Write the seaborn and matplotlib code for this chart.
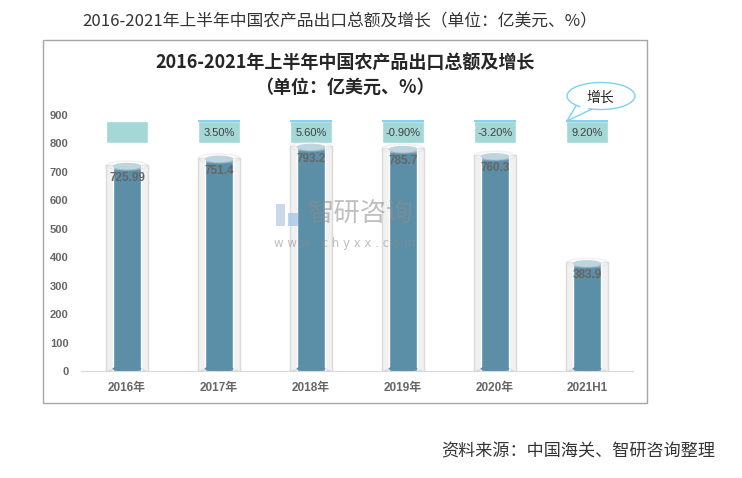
# -*- coding: utf-8 -*-
import numpy as np
import pandas as pd
import seaborn as sns
import matplotlib.pyplot as plt
from matplotlib.patches import Ellipse, Rectangle, Polygon

# data
years = ['2016年', '2017年', '2018年', '2019年', '2020年', '2021H1']
export_total = [725.99, 751.4, 793.2, 785.7, 760.3, 383.9]
value_labels = ['725.99', '751.4', '793.2', '785.7', '760.3', '383.9']
growth_labels = ['', '3.50%', '5.60%', '-0.90%', '-3.20%', '9.20%']

sns.set_style('white')
plt.rcParams['font.family'] = ['Noto Sans CJK SC', 'DejaVu Sans']
LAT = ['Liberation Sans', 'Noto Sans CJK SC']

W, H = 742, 478
fig = plt.figure(figsize=(W / 100, H / 100), dpi=100)


def fx(x):
    return x / W


def fy(y):
    return 1 - y / H


# outer chart frame
fig.patches.append(Rectangle((fx(43), fy(403)), fx(647 - 43), (403 - 40) / H,
                             transform=fig.transFigure, fill=False,
                             edgecolor='#a6a6a6', lw=1))

ax = fig.add_axes([fx(81), fy(371), fx(633 - 81), (371 - 115) / H])
df = pd.DataFrame({'year': years, 'total': export_total})
pos = np.arange(len(years))
vals = np.array(export_total)

# transparent tube behind the bars
ax.bar(pos, vals + 2, bottom=-4, width=0.446, color='#f1f1f1',
       edgecolor='#dadada', lw=1, zorder=1)
for p in pos:
    ax.add_patch(Ellipse((p, -4), 0.446, 22, facecolor='#eeeeee',
                         edgecolor='#dadada', lw=1, zorder=1))

sns.barplot(data=df, x='year', y='total', color='#5a8fa7', saturation=1,
            width=0.315, ax=ax, zorder=2)
for p in pos:
    ax.add_patch(Ellipse((p, 8), 0.315, 20, facecolor='#5a8fa7',
                         edgecolor='none', zorder=2))
for p, v in zip(pos, vals):
    ax.add_patch(Ellipse((p, v - 6), 0.315, 24, facecolor='#a2c3d1',
                         edgecolor='none', zorder=3))
    ax.add_patch(Ellipse((p, v - 4), 0.446, 32, facecolor='#ffffff',
                         alpha=0.3, edgecolor='#d4d4d4', lw=1.2, zorder=3))

# value labels
for p, v, t in zip(pos, vals, value_labels):
    ax.text(p, v - 47, t, ha='center', va='center', fontsize=8.5,
            fontweight='bold', color='#666666', family=LAT, zorder=5)

# growth boxes
ax.bar(pos, [80] * len(pos), bottom=800, width=0.457, color='#a4d8d6',
       zorder=2, clip_on=False)
for p, g in zip(pos, growth_labels):
    if g:
        ax.plot([p - 0.2285, p + 0.2285], [880, 880], color='#72c9ec', lw=1.2,
                zorder=3, clip_on=False, solid_capstyle='butt')
        ax.text(p, 838, g, ha='center', va='center', fontsize=8,
                color='#404040', family=LAT, zorder=5)

ax.set_ylim(0, 900)
ax.set_xlim(-0.5, 5.5)
ax.set_yticks(range(0, 901, 100))
ax.set_xlabel('')
ax.set_ylabel('')
for s in ['top', 'right', 'left']:
    ax.spines[s].set_visible(False)
ax.spines['bottom'].set_color('#d9d9d9')
ax.tick_params(axis='y', length=0, pad=9, labelsize=8, labelcolor='#666666')
ax.tick_params(axis='x', length=0, pad=8, labelsize=8.5, labelcolor='#666666')
for lab in ax.get_yticklabels() + ax.get_xticklabels():
    lab.set_fontweight('bold')
    lab.set_family(LAT)

# watermark
fig.patches.append(Rectangle((fx(276), fy(226)), fx(9), 22 / H,
                             transform=fig.transFigure, facecolor='#b3c9de',
                             alpha=0.7, edgecolor='none'))
fig.patches.append(Rectangle((fx(288), fy(226)), fx(10), 13 / H,
                             transform=fig.transFigure, facecolor='#9fc3e6',
                             alpha=0.7, edgecolor='none'))
fig.text(fx(361), fy(213), '智研咨询', ha='center', va='center', fontsize=19,
         color='#8c8c8c', alpha=0.55)
fig.text(fx(345), fy(244), 'w w w . c h y x x . c o m', ha='center',
         va='center', fontsize=8.5, color='#8c8c8c', alpha=0.55,
         family='DejaVu Sans')

# titles
fig.text(fx(345), fy(63), '2016-2021年上半年中国农产品出口总额及增长',
         ha='center', va='center', fontsize=13, fontweight='bold',
         color='#262626')
fig.text(fx(345), fy(87), '（单位：亿美元、%）', ha='center', va='center',
         fontsize=13, fontweight='bold', color='#262626')
fig.text(fx(340), fy(22), '2016-2021年上半年中国农产品出口总额及增长（单位：亿美元、%）',
         ha='center', va='center', fontsize=12.1, color='#333333')
fig.text(fx(715), fy(451), '资料来源：中国海关、智研咨询整理', ha='right',
         va='center', fontsize=12.3, color='#333333')

# speech bubble
bub = '#7dd1f1'
fig.patches.append(Polygon([(fx(577), fy(104)), (fx(592), fy(109)),
                            (fx(567), fy(121))], closed=True,
                           transform=fig.transFigure, facecolor='white',
                           edgecolor=bub, lw=1, zorder=4))
fig.patches.append(Ellipse((fx(601), fy(96)), fx(68), 27 / H,
                           transform=fig.transFigure, facecolor='white',
                           edgecolor=bub, lw=1, zorder=5))
fig.patches.append(Polygon([(fx(578), fy(103)), (fx(591), fy(107)),
                            (fx(583), fy(111))], closed=True,
                           transform=fig.transFigure, facecolor='white',
                           edgecolor='none', zorder=6))
fig.text(fx(600), fy(98), '增长', ha='center', va='center', fontsize=10,
         color='#262626', zorder=7)

fig.savefig('out.png', dpi=100)
